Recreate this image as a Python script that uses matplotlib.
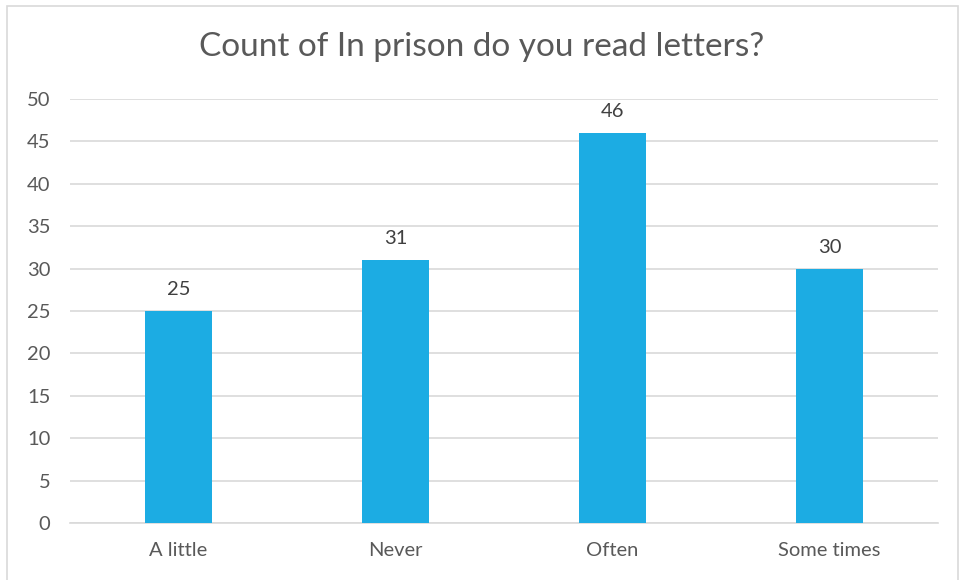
import matplotlib
matplotlib.use("Agg")
import matplotlib.pyplot as plt
from matplotlib.patches import Rectangle

categories = ["A little", "Never", "Often", "Some times"]
counts = [25, 31, 46, 30]
title = "Count of In prison do you read letters?"

plt.rcParams['font.family'] = ['Lato', 'DejaVu Sans']
txt = '#595959'

fig = plt.figure(figsize=(9.63, 5.8), dpi=100)
fig.patches.append(Rectangle((7/963, -0.01), (958-7)/963, 1.0, transform=fig.transFigure,
                             fill=False, edgecolor='#d9d9d9', linewidth=1.2))
ax = fig.add_axes([70/963, 57/580, (938-70)/963, (523-99)/580])

x = range(len(categories))
bars = ax.bar(x, counts, width=0.31, color='#1cace3', zorder=3)
for xi, v in zip(x, counts):
    ax.text(xi, v + 1.5, str(v), ha='center', va='bottom', fontsize=14.5, color='#404040')

ax.set_xlim(-0.5, len(categories) - 0.5)
ax.set_ylim(0, 50)
ax.set_yticks(range(0, 51, 5))
ax.yaxis.grid(True, color='#d9d9d9', linewidth=1.2, zorder=0)
ax.set_xticks(list(x))
ax.set_xticklabels(categories)
ax.tick_params(axis='both', length=0, labelsize=14.5, colors=txt)
ax.tick_params(axis='y', pad=14)
ax.tick_params(axis='x', pad=14)
for s in ['top', 'right', 'left']:
    ax.spines[s].set_visible(False)
ax.spines['bottom'].set_color('#d9d9d9')
ax.spines['bottom'].set_linewidth(1.2)

fig.text(0.5, 1 - 47/580, title, ha='center', va='center', fontsize=24, color=txt)

fig.savefig("out.png", dpi=100)
